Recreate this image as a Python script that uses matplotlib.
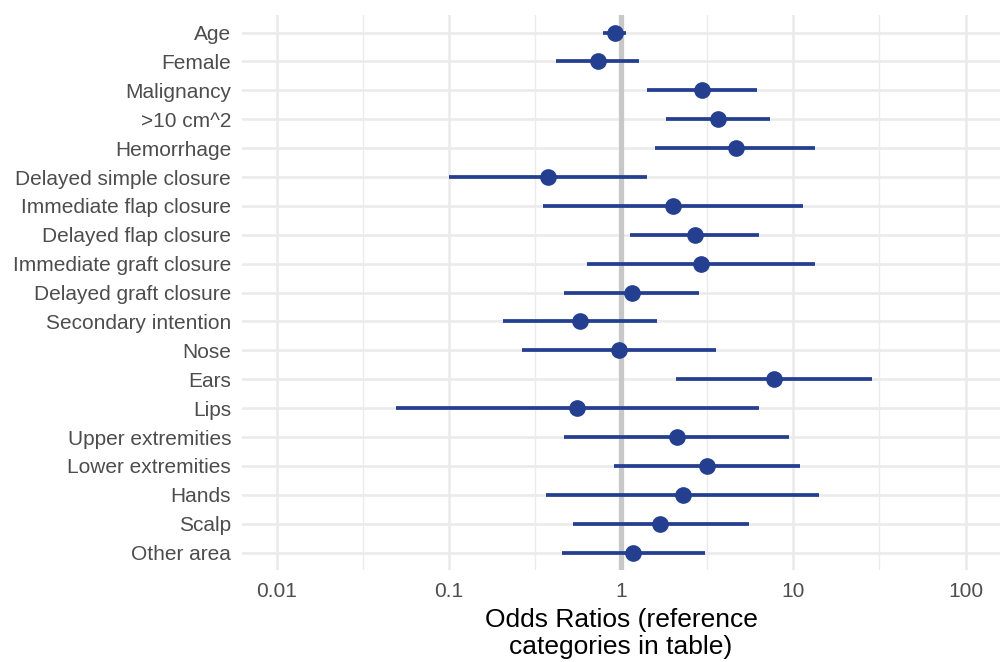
import numpy as np
import matplotlib
matplotlib.use("Agg")
import matplotlib.pyplot as plt
from matplotlib.ticker import FixedLocator, FixedFormatter, NullFormatter

plt.rcParams['font.family'] = ['Liberation Sans', 'DejaVu Sans']

# Variables from top to bottom
labels = ["Age", "Female", "Malignancy", ">10 cm^2", "Hemorrhage",
          "Delayed simple closure", "Immediate flap closure", "Delayed flap closure",
          "Immediate graft closure", "Delayed graft closure", "Secondary intention",
          "Nose", "Ears", "Lips", "Upper extremities", "Lower extremities",
          "Hands", "Scalp", "Other area"]
odds = [0.92, 0.73, 2.96, 3.63, 4.63, 0.375, 2.01, 2.67, 2.90, 1.15, 0.58,
        0.97, 7.69, 0.557, 2.10, 3.14, 2.28, 1.69, 1.17]
ci_low = [0.79, 0.42, 1.42, 1.82, 1.58, 0.10, 0.354, 1.13, 0.635, 0.466, 0.207,
          0.267, 2.08, 0.0494, 0.469, 0.906, 0.368, 0.525, 0.451]
ci_high = [1.07, 1.27, 6.18, 7.29, 13.4, 1.41, 11.4, 6.31, 13.4, 2.85, 1.62,
           3.54, 28.8, 6.35, 9.49, 11.0, 14.1, 5.5, 3.06]

x_ticks = [0.01, 0.1, 1, 10, 100]
x_tick_labels = ["0.01", "0.1", "1", "10", "100"]

point_color = '#243F8F'
grid_color = '#EBEBEB'

fig = plt.figure(figsize=(10.01, 6.62), dpi=100)
ax = fig.add_axes([0.242, 0.139, 0.757, 0.838])

n = len(labels)
ypos = np.arange(n, 0, -1)

ax.set_xscale('log')
ax.set_xlim(10 ** -2.2, 10 ** 2.2)
ax.set_ylim(0.4, n + 0.6)

# grid lines (theme_minimal style)
ax.xaxis.set_major_locator(FixedLocator(x_ticks))
ax.xaxis.set_major_formatter(FixedFormatter(x_tick_labels))
ax.xaxis.set_minor_locator(FixedLocator([10 ** -1.5, 10 ** -0.5, 10 ** 0.5, 10 ** 1.5]))
ax.xaxis.set_minor_formatter(NullFormatter())
ax.set_yticks(ypos)
ax.set_yticklabels(labels)
ax.grid(True, which='major', axis='both', color=grid_color, linewidth=1.9, zorder=0)
ax.grid(True, which='minor', axis='x', color=grid_color, linewidth=1.0, zorder=0)
ax.set_axisbelow(True)

for s in ax.spines.values():
    s.set_visible(False)
ax.tick_params(axis='both', which='both', length=0)
ax.tick_params(axis='y', labelsize=15, labelcolor='#4D4D4D', pad=8)
ax.tick_params(axis='x', labelsize=15, labelcolor='#4D4D4D', pad=9)

# reference line at 1
ax.axvline(1, color='#C8C8C8', linewidth=3.8, zorder=1)

ax.hlines(ypos, ci_low, ci_high, color=point_color, linewidth=2.7, zorder=2)
ax.plot(odds, ypos, 'o', color=point_color, markersize=11, zorder=3)

ax.set_xlabel("Odds Ratios (reference\ncategories in table)", fontsize=19,
              color='black', labelpad=5, linespacing=1.12)

fig.savefig("out.png", dpi=100, facecolor='white')
